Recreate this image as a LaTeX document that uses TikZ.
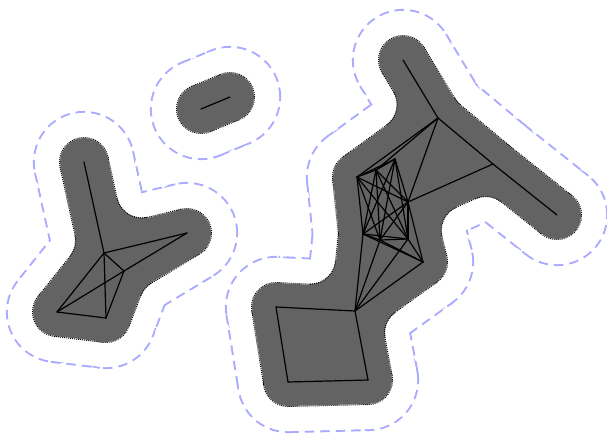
\documentclass[tikz,border=0pt]{standalone}
\usetikzlibrary{calc}

\definecolor{hullblue}{RGB}{170,170,255}
\definecolor{blobgray}{RGB}{99,99,99}

\tikzset{
  hull/.style={draw=hullblue, line width=2.2pt, dash pattern=on 9.5pt off 6pt},
  rim/.style={draw=black, line width=1pt, dash pattern=on 1pt off 1pt},
  link/.style={draw=black, line width=1.2pt, line cap=round, line join=round},
}

% all vertices and edges of the three pieces
\def\vertices{s1,s2,lt,lh,lr,lm,ll,lb,T,J,M,RE,A,B,C,D,E,F,G,H,S,Q1,Q3,Q4}
\def\edges{s1/s2,
  lt/lh, lh/lr, lh/lm, lh/ll, lh/lb, lm/lr, ll/lm, lm/lb, ll/lb,
  T/J, J/M, M/RE, J/A, J/B, J/D, D/M,
  A/B, A/C, A/D, A/E, A/F, A/G, B/C, B/D, B/E, B/F, B/G,
  C/D, C/E, C/F, C/G, D/E, D/F, D/G, E/F, E/G, F/G,
  H/D, H/E, H/F, H/G, S/E, S/F, S/G, S/H,
  S/Q1, Q1/Q4, Q4/Q3, Q3/S}

% outline of the thickened graph: circle round each vertex, two parallels per edge
\newcommand{\graphoutline}[2]{%
  \foreach \v in \vertices \draw[#2] (\v) circle[radius=#1];
  \foreach \a/\b in \edges {
    \draw[#2] ($(\a)!#1!90:(\b)$) -- ($(\b)!#1!-90:(\a)$);
    \draw[#2] ($(\a)!#1!-90:(\b)$) -- ($(\b)!#1!90:(\a)$);
  }}
% the thickened graph itself (radius, colour, stroke width)
\newcommand{\graphbody}[3]{%
  \foreach \v in \vertices \fill[#2] (\v) circle[radius=#1];
  \foreach \a/\b in \edges \draw[#2, line width=#3] (\a) -- (\b);
  \fill[#2] (lh) -- (lr) -- (lm) -- (lb) -- (ll) -- cycle
    (J) -- (M) -- (D) -- (H) -- (S) -- (E) -- (A) -- cycle
    (S) -- (Q1) -- (Q4) -- (Q3) -- cycle;}
% rounded inner corner of the grey body between edge #1-#2 and edge #3-#4
% (outside lies to the left of both)
\newcommand{\fillet}[4]{%
  \coordinate (p1) at ($(#1)!50pt!90:(#2)$);
  \coordinate (p2) at ($(#2)!50pt!-90:(#1)$);
  \coordinate (p3) at ($(#3)!50pt!90:(#4)$);
  \coordinate (p4) at ($(#4)!50pt!-90:(#3)$);
  \coordinate (pc) at (intersection of p1--p2 and p3--p4);
  \coordinate (f1) at ($(pc)!1.4!($(#1)!(pc)!(#2)$)$);
  \coordinate (f2) at ($(pc)!1.4!($(#3)!(pc)!(#4)$)$);
  \begin{scope}
    \clip (pc) -- (f1) -- (f2) -- cycle;
    \fill[blobgray, even odd rule] (pc) circle[radius=75pt] (pc) circle[radius=25.5pt];
    \draw[rim] (pc) circle[radius=25.5pt];
  \end{scope}}

\begin{document}
\begin{tikzpicture}[x=1pt, y=-1pt]
  \fill[white] (0,0) rectangle (607,437);
  \useasboundingbox (0,0) rectangle (607,437);

  % small piece
  \coordinate (s1) at (201,109);
  \coordinate (s2) at (230,97);
  % left piece
  \coordinate (lt) at (84,162);
  \coordinate (lh) at (104,253);
  \coordinate (lr) at (187,233);
  \coordinate (lm) at (124,271);
  \coordinate (ll) at (57,312);
  \coordinate (lb) at (106,318);
  % big piece
  \coordinate (T) at (403,60);
  \coordinate (J) at (438,118);
  \coordinate (M) at (493,164);
  \coordinate (RE) at (557,215);
  \coordinate (A) at (357,177);
  \coordinate (B) at (376,170);
  \coordinate (C) at (395,159);
  \coordinate (D) at (408,202);
  \coordinate (E) at (363,234);
  \coordinate (F) at (380,240);
  \coordinate (G) at (408,239);
  \coordinate (H) at (423,262);
  \coordinate (S) at (355,311);
  \coordinate (Q1) at (276,307);
  \coordinate (Q3) at (368,380);
  \coordinate (Q4) at (288,382);

  % dashed hull
  \graphoutline{50pt}{hull}
  \graphbody{49.1pt}{white}{98.2pt}
  % grey body with dotted rim
  \graphoutline{24.5pt}{rim}
  \graphbody{24pt}{blobgray}{48pt}
  \fillet{lt}{lh}{lh}{lr}
  \fillet{ll}{lh}{lh}{lt}
  \fillet{lr}{lm}{lm}{lb}
  \fillet{T}{J}{J}{M}
  \fillet{A}{J}{J}{T}
  \fillet{RE}{M}{M}{D}
  \fillet{M}{D}{D}{H}
  \fillet{H}{S}{S}{Q3}
  \fillet{Q1}{S}{S}{E}

  % edges
  \foreach \a/\b in \edges \draw[link] (\a) -- (\b);
\end{tikzpicture}
\end{document}
